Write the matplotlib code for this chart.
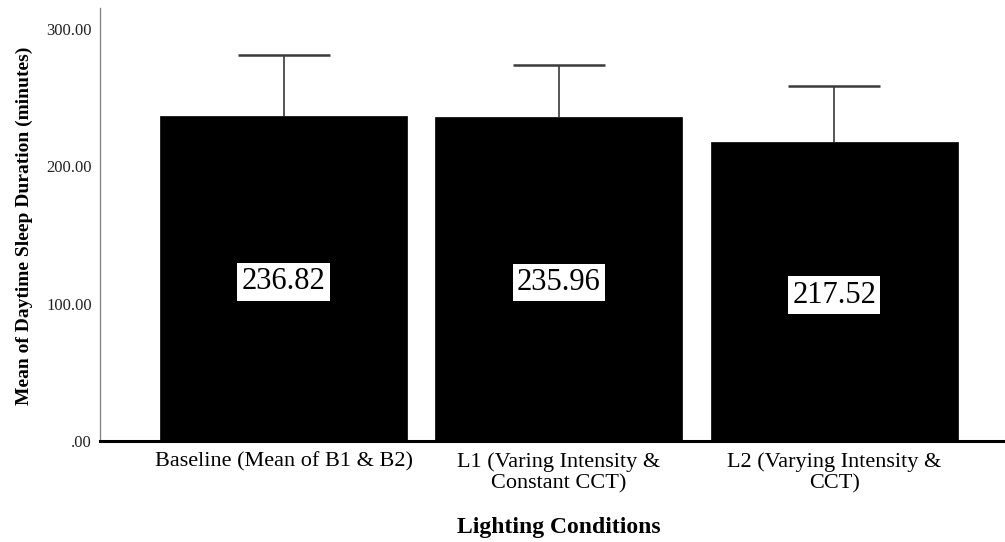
import matplotlib
matplotlib.use("Agg")
import matplotlib.pyplot as plt

categories = ["Baseline (Mean of B1 & B2)",
              "L1 (Varing Intensity &\nConstant CCT)",
              "L2 (Varying Intensity &\nCCT)"]
means = [236.82, 235.96, 217.52]
err_upper = [44.7, 37.6, 40.9]
yticks = [0, 100, 200, 300]
ytick_labels = [".00", "100.00", "200.00", "300.00"]

plt.rcParams['font.family'] = ['Liberation Serif', 'DejaVu Serif']

fig = plt.figure(figsize=(10.05, 5.42), dpi=100)
ax = fig.add_axes([100/1005, 1-441/542, 905/1005, 433/542])

x = list(range(len(categories)))
ax.bar(x, means, width=0.897, color='black', edgecolor='black', linewidth=0.5, zorder=2)
eb = ax.errorbar(x, means, yerr=[[0]*len(means), err_upper], fmt='none',
                 ecolor='#3a3a3a', elinewidth=1.2, capsize=33, capthick=1.8, zorder=3)
# hide the lower caps (only upper error shown)
caplines = eb[1]
if len(caplines) == 2:
    caplines[0].set_visible(False)

for xi, v in zip(x, means):
    ax.annotate(f"{v:.2f}", xy=(xi, v/2), xytext=(0, -2.5), textcoords='offset points',
                ha='center', va='center', fontsize=22, color='black', zorder=4,
                bbox=dict(boxstyle='square,pad=0.14', facecolor='white', edgecolor='none'))

ax.set_xlim(-0.667, 2.621)
ax.set_ylim(0, 315.4)
ax.set_yticks(yticks)
ax.set_yticklabels(ytick_labels, fontsize=12, color='#222222')
ax.set_xticks(x)
ax.set_xticklabels(categories, fontsize=16, linespacing=1.15)
ax.tick_params(axis='both', length=0)
ax.tick_params(axis='y', pad=6)
ax.tick_params(axis='x', pad=8)

for s in ['top', 'right']:
    ax.spines[s].set_visible(False)
ax.spines['left'].set_color('#888888')
ax.spines['left'].set_linewidth(1.0)
ax.spines['bottom'].set_color('black')
ax.spines['bottom'].set_linewidth(2.2)

ax.set_xlabel("Lighting Conditions", fontsize=17, fontweight='bold')
ax.xaxis.label.set_va('center')
ax.xaxis.set_label_coords((558.5-100)/905, (441-527)/433)
ax.set_ylabel("Mean of Daytime Sleep Duration (minutes)", fontsize=14, fontweight='bold')
ax.yaxis.label.set_va('center')
ax.yaxis.set_label_coords((24-100)/905, (441-225.5)/433)

fig.savefig("out.png", dpi=100, facecolor='white')
